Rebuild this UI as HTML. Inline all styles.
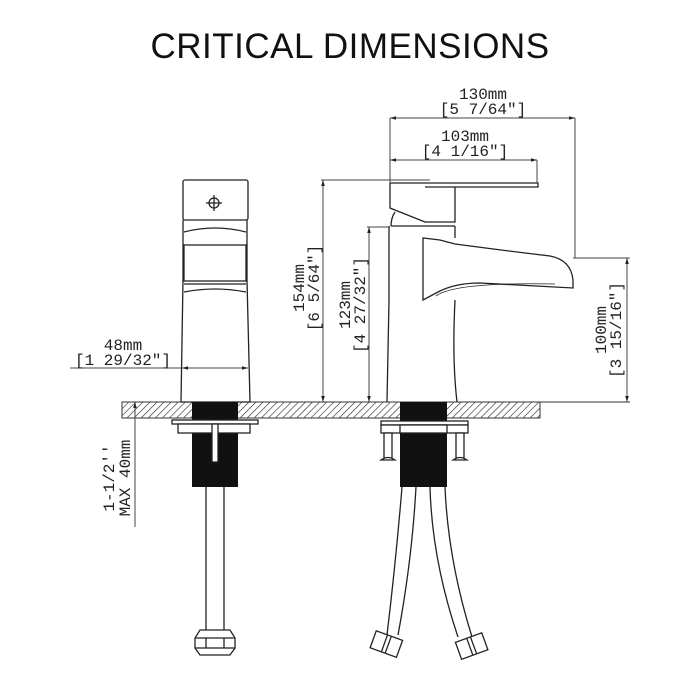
<!DOCTYPE html>
<html><head><meta charset="utf-8"><style>
html,body{margin:0;padding:0;background:#fff;width:700px;height:700px;overflow:hidden}
svg{display:block}
.t{font-family:"Liberation Mono",monospace;font-size:16px;fill:#222}
</style></head><body>
<svg width="700" height="700" viewBox="0 0 700 700" xmlns="http://www.w3.org/2000/svg">
<defs>
<pattern id="h" width="5" height="5" patternUnits="userSpaceOnUse" patternTransform="rotate(45)">
<line x1="0" y1="0" x2="0" y2="5" stroke="#222" stroke-width="1.2"/>
</pattern>
<marker id="a" viewBox="0 0 10 10" refX="10" refY="5" markerWidth="8" markerHeight="6" orient="auto-start-reverse">
<path d="M0,2 L10,5 L0,8 z" fill="#222"/>
</marker>
</defs>
<text x="350" y="58" text-anchor="middle" font-family="Liberation Sans,sans-serif" font-size="35" fill="#111" letter-spacing="0.5">CRITICAL DIMENSIONS</text>

<rect x="122" y="402" width="418" height="16" fill="url(#h)" stroke="#333" stroke-width="1"/>
<line x1="122" y1="402" x2="630" y2="402" stroke="#333"/>

<g fill="none" stroke="#222" stroke-width="1.3">
<rect x="183" y="180" width="65" height="40" rx="2"/>
<circle cx="214" cy="203" r="5"/>
<line x1="206" y1="203" x2="222" y2="203"/><line x1="214" y1="195" x2="214" y2="211"/>
<path d="M183 220 L183 280 L181 402 L250 402 L247 280 L247 220"/>
<path d="M184 232 Q215 224 246 232"/>
<rect x="184" y="245" width="62" height="36"/>
<line x1="184" y1="284" x2="246" y2="284"/>
<path d="M184 292 Q215 286 246 292"/>
</g>
<rect x="192" y="402" width="46" height="85" fill="#111"/>
<g fill="none" stroke="#222" stroke-width="1.3">
<rect x="172" y="420" width="86" height="4" fill="#fff"/>
<rect x="178" y="424" width="72" height="9" fill="#fff"/>
<rect x="212" y="424" width="6" height="38" fill="#fff"/>
<line x1="206" y1="487" x2="206" y2="630"/><line x1="224" y1="487" x2="224" y2="630"/>
<path d="M200 630 L230 630 L235 638 L235 648 L230 655 L200 655 L195 648 L195 638 Z" fill="#fff"/>
<line x1="195" y1="638" x2="235" y2="638"/><line x1="195" y1="648" x2="235" y2="648"/>
<line x1="206" y1="638" x2="206" y2="648"/><line x1="224" y1="638" x2="224" y2="648"/>
</g>

<g fill="none" stroke="#222" stroke-width="1.3">
<path d="M390 183 L538 183 L538 187 L425 187"/>
<path d="M390 183 L390 208 L425 222 L455 222 L455 187"/>
<path d="M395 212 Q391 218 391 226"/>
<line x1="391" y1="226" x2="455" y2="226"/>
<path d="M389 226 L389 300 L387 402 M455 226 L455 238 M455 300 Q452 360 457 402"/>
<path d="M423 238 L423 300 L438 292 Q455 283 480 283 L573 288 L573 280 Q571 260 550 256 Q500 250 455 244 L440 240 Z"/>
<path d="M436 296 Q455 282 555 284" stroke-width="0.8"/>
</g>
<rect x="400" y="402" width="47" height="85" fill="#111"/>
<g fill="none" stroke="#222" stroke-width="1.3">
<rect x="381" y="421" width="87" height="4" fill="#fff"/>
<rect x="381" y="425" width="87" height="8" fill="#fff"/>
<rect x="400" y="425" width="47" height="8" fill="#fff"/>
<rect x="384" y="433" width="8" height="25" fill="#fff"/>
<rect x="456" y="433" width="8" height="25" fill="#fff"/>
<path d="M381 460 Q388 455 395 460 Z M453 460 Q460 455 467 460 Z" fill="#fff"/>
<path d="M402 487 Q396 560 387 635 M416 487 Q412 560 398 635"/>
<path d="M430 487 Q432 560 458 637 M445 487 Q448 560 472 637"/>
<g transform="rotate(20 386 645)"><rect x="372" y="635" width="28" height="18" fill="#fff"/><line x1="384" y1="635" x2="384" y2="653"/><line x1="388" y1="635" x2="388" y2="653"/></g>
<g transform="rotate(-20 472 647)"><rect x="458" y="637" width="28" height="18" fill="#fff"/><line x1="470" y1="637" x2="470" y2="655"/><line x1="474" y1="637" x2="474" y2="655"/></g>
</g>

<g stroke="#444" stroke-width="1" fill="none">
<line x1="70" y1="368" x2="182" y2="368"/>
<line x1="182" y1="368" x2="248" y2="368" marker-start="url(#a)" marker-end="url(#a)"/>
<line x1="135" y1="402" x2="135" y2="527" marker-start="url(#a)"/>
<line x1="390" y1="118" x2="390" y2="183"/><line x1="575" y1="118" x2="575" y2="258"/>
<line x1="390" y1="118" x2="575" y2="118" marker-start="url(#a)" marker-end="url(#a)"/>
<line x1="390" y1="160" x2="537" y2="160" marker-start="url(#a)" marker-end="url(#a)"/>
<line x1="537" y1="160" x2="537" y2="183"/>
<line x1="321" y1="180" x2="430" y2="180"/>
<line x1="323" y1="180" x2="323" y2="402" marker-start="url(#a)" marker-end="url(#a)"/>
<line x1="367" y1="227" x2="390" y2="227"/>
<line x1="369" y1="227" x2="369" y2="402" marker-start="url(#a)" marker-end="url(#a)"/>
<line x1="573" y1="258" x2="630" y2="258"/>
<line x1="627" y1="258" x2="627" y2="402" marker-start="url(#a)" marker-end="url(#a)"/>
</g>
<text class="t" x="123" y="350" text-anchor="middle">48mm</text>
<text class="t" x="123" y="365" text-anchor="middle">[1 29/32"]</text>
<text class="t" x="483" y="99" text-anchor="middle">130mm</text>
<text class="t" x="483" y="114" text-anchor="middle">[5 7/64"]</text>
<text class="t" x="465" y="141" text-anchor="middle">103mm</text>
<text class="t" x="465" y="156" text-anchor="middle">[4 1/16"]</text>
<text class="t" transform="translate(304 288) rotate(-90)" text-anchor="middle">154mm</text>
<text class="t" transform="translate(319 288) rotate(-90)" text-anchor="middle">[6 5/64"]</text>
<text class="t" transform="translate(350 305) rotate(-90)" text-anchor="middle">123mm</text>
<text class="t" transform="translate(365 305) rotate(-90)" text-anchor="middle">[4 27/32"]</text>
<text class="t" transform="translate(606 330) rotate(-90)" text-anchor="middle">100mm</text>
<text class="t" transform="translate(621 330) rotate(-90)" text-anchor="middle">[3 15/16"]</text>
<text class="t" transform="translate(114 478) rotate(-90)" text-anchor="middle">1-1/2''</text>
<text class="t" transform="translate(130 478) rotate(-90)" text-anchor="middle">MAX 40mm</text>
</svg>
</body></html>
